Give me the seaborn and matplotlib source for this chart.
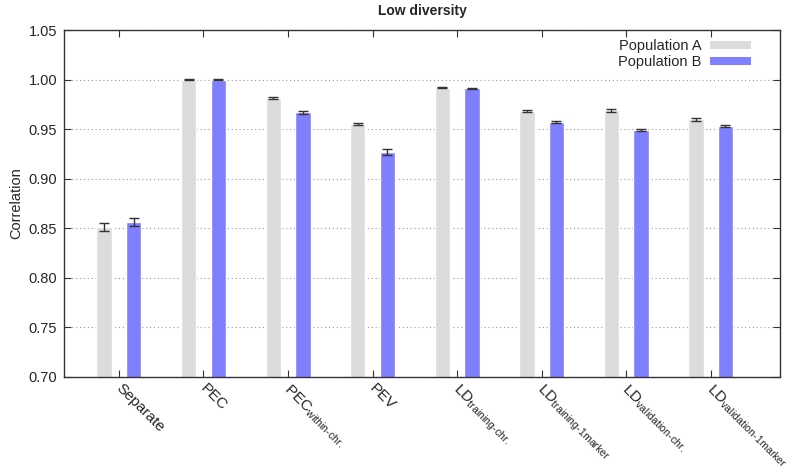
import matplotlib
matplotlib.use("Agg")
import matplotlib.pyplot as plt
import matplotlib.transforms as mtransforms
import seaborn as sns
import pandas as pd
import numpy as np
from matplotlib.patches import Patch

categories = ["Separate", "PEC", "PEC_within", "PEV", "LD_tc", "LD_t1", "LD_vc", "LD_v1"]
tick_labels = ["Separate", "PEC", r"PEC$_{\mathregular{within‐chr.}}$", "PEV",
               r"LD$_{\mathregular{training‐chr.}}$", r"LD$_{\mathregular{training‐1marker}}$",
               r"LD$_{\mathregular{validation‐chr.}}$", r"LD$_{\mathregular{validation‐1marker}}$"]
pop_a = [0.851, 1.000, 0.981, 0.955, 0.992, 0.968, 0.969, 0.960]
pop_b = [0.856, 1.000, 0.967, 0.927, 0.991, 0.957, 0.949, 0.953]
err_a = [0.004, 0.0004, 0.001, 0.001, 0.0005, 0.001, 0.0015, 0.0015]
err_b = [0.004, 0.0004, 0.0015, 0.003, 0.0005, 0.001, 0.001, 0.001]
series = ["Population A", "Population B"]
colors = ["#dcdcdc", "#8080ff"]

df = pd.DataFrame({
    "cat": categories * 2,
    "value": pop_a + pop_b,
    "pop": [series[0]] * len(categories) + [series[1]] * len(categories),
})

sns.set_style("white")
plt.rcParams["font.family"] = ["Liberation Sans", "DejaVu Sans"]
plt.rcParams["mathtext.fontset"] = "custom"
plt.rcParams["mathtext.rm"] = "Liberation Sans"

fig = plt.figure(figsize=(7.92, 4.74), dpi=100)
ax = fig.add_axes([64 / 792, 1 - 377 / 474, (780 - 64) / 792, (377 - 30) / 474])

sns.barplot(data=df, x="cat", y="value", hue="pop", hue_order=series, order=categories,
            palette=colors, width=0.7, gap=0.48, errorbar=None, ax=ax, legend=False,
            saturation=1)

for cont, errs in zip(ax.containers, [err_a, err_b]):
    xs = [p.get_x() + p.get_width() / 2 for p in cont]
    ys = [p.get_height() for p in cont]
    ax.errorbar(xs, ys, yerr=errs, fmt="none", ecolor="#333333", elinewidth=1,
                capsize=3.5, capthick=1, zorder=5)

ax.set_ylim(0.70, 1.05)
ax.set_xlim(-0.65, 7.82)
yt = np.arange(0.70, 1.0501, 0.05)
ax.set_yticks(yt)
ax.set_yticklabels([f"{v:.2f}" for v in yt], fontsize=10.5)
ax.set_xticks(range(len(categories)))
ax.set_xticklabels(tick_labels, rotation=-45, ha="left", va="top",
                   rotation_mode="anchor", fontsize=11)
ax.tick_params(axis="both", direction="in", length=5, width=0.8, color="#333333",
               top=True, right=True, bottom=True, left=True, pad=5)
ax.tick_params(axis="x", pad=3)
offset = mtransforms.ScaledTranslation(4 / 100, 0, fig.dpi_scale_trans)
for lbl in ax.get_xticklabels():
    lbl.set_transform(lbl.get_transform() + offset)
ax.yaxis.grid(True, linestyle=(0, (1, 2.5)), color="#999999", linewidth=0.8)
ax.set_axisbelow(True)
for s in ax.spines.values():
    s.set_color("#333333")
    s.set_linewidth(1)

ax.set_xlabel("")
ax.set_ylabel("Correlation", fontsize=10.5)
ax.set_title("Low diversity", fontsize=10, fontweight="bold", pad=11)

handles = [Patch(facecolor=c, edgecolor="none") for c in colors]
ax.legend(handles, series, loc="upper right", frameon=False, markerfirst=False,
          handlelength=2.8, handleheight=0.5, fontsize=10.5, labelspacing=0.15,
          bbox_to_anchor=(0.978, 1.012), handletextpad=0.6)

fig.savefig("out.png", dpi=100)
